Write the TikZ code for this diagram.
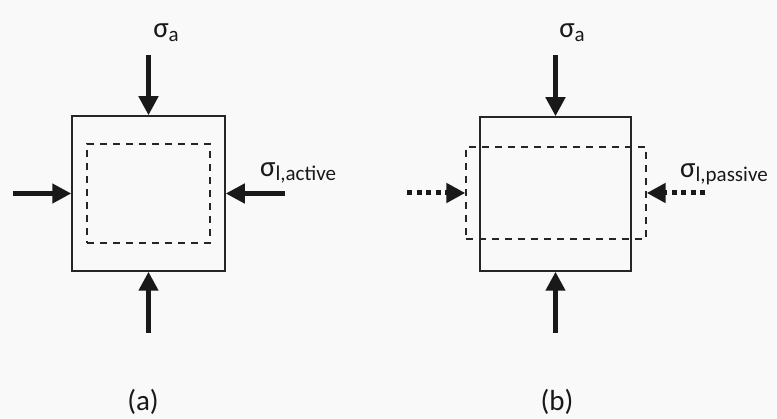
\documentclass[tikz,border=0pt]{standalone}
\usepackage{fontspec}
\setmainfont{Carlito}
\usetikzlibrary{arrows.meta}
\newcommand{\sig}[1]{σ\raisebox{-0.3ex}{\fontsize{21}{21}\selectfont #1}}
\begin{document}
\begin{tikzpicture}[x=1pt,y=-1pt,
  dashbox/.style={draw=black!85,line width=1.4pt,dash pattern=on 7pt off 6pt,inner sep=0pt},
  force/.style={draw=black!90,line width=4.5pt,-{Triangle[width=19pt,length=19pt]},shorten >=0pt},
  dforce/.style={draw=black!90,line width=5pt,dash pattern=on 5pt off 4.5pt,-{Triangle[width=19pt,length=19pt]}},
  lab/.style={font=\fontsize{29}{29}\selectfont,text=black!90,inner sep=0pt}]
\fill[gray!5] (0,0) rectangle (777,419);
\useasboundingbox (0,0) rectangle (777,419);
% (a)
\node[draw=black!85,line width=1.5pt,minimum width=153pt,minimum height=155pt,inner sep=0pt] (boxa) at (148.5,193.5) {};
\node[dashbox,minimum width=123pt,minimum height=99pt] (dasha) at (148.5,193.5) {};
\coordinate (ta) at (148.5,55);
\coordinate (ba) at (148.5,333);
\coordinate (la) at (13,193.5);
\coordinate (ra) at (285,193.5);
\draw[force] (ta) -- (boxa.north);
\draw[force] (ba) -- (boxa.south);
\draw[force] (la) -- (boxa.west);
\draw[force] (ra) -- (boxa.east);
\node[lab] (siga) at (166,33) {\sig{a}};
\node[lab,anchor=west] (sigla) at (260,173) {\sig{l,active}};
\node[lab] (capa) at (143,402) {(a)};
% (b)
\node[draw=black!85,line width=1.5pt,minimum width=151pt,minimum height=154pt,inner sep=0pt] (boxb) at (555.5,194) {};
\node[dashbox,minimum width=180pt,minimum height=92pt] (dashb) at (556,193) {};
\coordinate (tb) at (555.5,55);
\coordinate (bb) at (555.5,333);
\coordinate (lb) at (407,193);
\coordinate (rb) at (705,193);
\draw[force] (tb) -- (boxb.north);
\draw[force] (bb) -- (boxb.south);
\draw[dforce] (lb) -- (dashb.west);
\draw[dforce] (rb) -- (dashb.east);
\node[lab] (sigb) at (572,33) {\sig{a}};
\node[lab,anchor=west] (siglb) at (680,174) {\sig{l,passive}};
\node[lab] (capb) at (557,402) {(b)};
\end{tikzpicture}
\end{document}
